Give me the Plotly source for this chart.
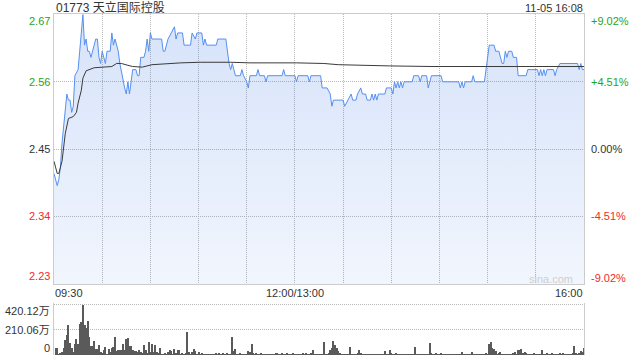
import plotly.graph_objects as go

# ---------------- data ----------------
title_text = "01773 天立国际控股"
date_text = "11-05 16:08"
prev_close = 2.45
pct_limit = 9.02

y_tick_values = [2.67, 2.56, 2.45, 2.34, 2.23]
y_tick_labels = ["2.67", "2.56", "2.45", "2.34", "2.23"]
pct_tick_labels = ["+9.02%", "+4.51%", "0.00%", "-4.51%", "-9.02%"]
time_tick_minutes = [0, 150, 330]
time_tick_labels = ["09:30", "12:00/13:00", "16:00"]
vol_tick_values = [420.12, 210.06, 0]
vol_tick_labels = ["420.12万", "210.06万", "0"]

# minutes since 09:30 (trading minutes, lunch break removed) and price
price_min = [0, 2, 3, 4, 5, 7, 8, 9, 10, 11, 12, 13, 15, 16, 18,
             19, 20, 21, 22, 23, 24, 26, 27, 28, 29, 30, 31, 32, 33, 35,
             36, 37, 38, 39, 40, 41, 43, 44, 45, 46, 47, 48, 49, 51, 52,
             53, 54, 56, 57, 58, 59, 60, 61, 67, 68, 69, 71, 73, 75, 76,
             77, 80, 81, 85, 86, 88, 89, 92, 93, 94, 95, 101, 102, 107, 108,
             109, 110, 111, 112, 113, 116, 117, 118, 120, 121, 122, 126, 127, 128, 131,
             132, 133, 142, 143, 144, 150, 151, 152, 158, 159, 160, 166, 167, 170, 172,
             173, 174, 180, 181, 183, 185, 186, 188, 189, 191, 192, 194, 195, 197, 198,
             199, 200, 201, 202, 206, 207, 210, 211, 212, 213, 214, 215, 216, 217, 218,
             223, 224, 227, 228, 229, 232, 233, 234, 235, 241, 242, 252, 253, 254, 255,
             256, 260, 261, 262, 268, 271, 274, 275, 277, 278, 279, 280, 281, 282, 283,
             285, 286, 288, 289, 294, 295, 301, 302, 303, 304, 305, 306, 307, 311, 312,
             313, 315, 326, 327, 328, 329, 330]
price = [2.41, 2.39, 2.40, 2.42, 2.46, 2.51, 2.54, 2.53, 2.53, 2.51, 2.52, 2.57, 2.58, 2.61, 2.67,
         2.62, 2.63, 2.61, 2.61, 2.60, 2.61, 2.63, 2.63, 2.60, 2.59, 2.61, 2.60, 2.59, 2.61, 2.61,
         2.64, 2.62, 2.63, 2.62, 2.61, 2.59, 2.56, 2.55, 2.54, 2.56, 2.54, 2.56, 2.58, 2.58, 2.57,
         2.57, 2.60, 2.60, 2.61, 2.63, 2.61, 2.64, 2.63, 2.63, 2.61, 2.61, 2.63, 2.64, 2.65, 2.63,
         2.64, 2.64, 2.62, 2.62, 2.64, 2.63, 2.64, 2.64, 2.62, 2.63, 2.62, 2.62, 2.63, 2.63, 2.61,
         2.59, 2.58, 2.59, 2.58, 2.57, 2.57, 2.58, 2.57, 2.56, 2.55, 2.57, 2.57, 2.58, 2.57, 2.57,
         2.56, 2.57, 2.57, 2.58, 2.57, 2.57, 2.56, 2.57, 2.57, 2.56, 2.57, 2.57, 2.55, 2.55, 2.54,
         2.52, 2.53, 2.53, 2.52, 2.53, 2.54, 2.53, 2.53, 2.54, 2.55, 2.54, 2.54, 2.53, 2.53, 2.54,
         2.53, 2.54, 2.53, 2.54, 2.54, 2.55, 2.55, 2.54, 2.56, 2.55, 2.56, 2.55, 2.56, 2.55, 2.56,
         2.56, 2.57, 2.57, 2.56, 2.57, 2.57, 2.55, 2.56, 2.57, 2.57, 2.56, 2.56, 2.55, 2.56, 2.55,
         2.56, 2.56, 2.57, 2.56, 2.56, 2.62, 2.62, 2.61, 2.61, 2.60, 2.59, 2.59, 2.61, 2.60, 2.61,
         2.61, 2.60, 2.60, 2.57, 2.57, 2.58, 2.58, 2.57, 2.58, 2.57, 2.58, 2.57, 2.58, 2.58, 2.57,
         2.58, 2.59, 2.59, 2.58, 2.59, 2.58, 2.58]

# average price line
avg_min = [0, 2, 3, 5, 7, 9, 12, 14, 15, 17, 18, 20, 25, 36, 39,
           42, 46, 49, 55, 61, 79, 91, 110, 122, 151, 168, 177, 189, 209, 236,
           270, 330]
avg_price = [2.43, 2.41, 2.41, 2.43, 2.475, 2.50, 2.503, 2.51, 2.525, 2.546, 2.566, 2.578, 2.583, 2.585, 2.590,
             2.590, 2.587, 2.585, 2.584, 2.588, 2.591, 2.592, 2.592, 2.591, 2.591, 2.590, 2.588, 2.587, 2.586, 2.585,
             2.585, 2.585]

# volume per minute (万), minutes 1..330
volume = [
    56, 56, 8, 20, 28, 56, 126, 168, 252, 104,
    56, 28, 92, 132, 92, 260, 272, 420.12, 252, 224,
    286, 148, 76, 76, 118, 50, 50, 84, 30, 20,
    42, 64, 14, 50, 28, 56, 64, 148, 36, 42,
    42, 42, 92, 42, 134, 140, 76, 76, 42, 36,
    36, 28, 42, 28, 22, 84, 42, 22, 106, 28,
    92, 28, 84, 30, 22, 56, 14, 14, 20, 14,
    28, 42, 36, 14, 48, 20, 42, 42, 14, 20,
    14, 20, 196, 28, 14, 28, 48, 36, 14, 28,
    14, 22, 14, 14, 8, 14, 14, 8, 8, 14,
    20, 14, 22, 14, 20, 8, 14, 20, 8, 14,
    154, 36, 48, 14, 14, 20, 8, 8, 14, 14,
    34, 28, 92, 22, 14, 22, 8, 14, 22, 14,
    8, 14, 8, 8, 8, 8, 14, 20, 20, 14,
    14, 20, 14, 14, 20, 14, 8, 8, 20, 14,
    8, 14, 14, 14, 22, 8, 22, 8, 14, 22,
    42, 8, 8, 8, 8, 14, 8, 109, 14, 14,
    22, 42, 56, 118, 84, 56, 36, 20, 14, 14,
    14, 14, 14, 64, 14, 8, 14, 14, 22, 42,
    20, 14, 8, 8, 8, 8, 8, 8, 8, 8,
    8, 8, 14, 8, 14, 34, 14, 8, 42, 22,
    14, 8, 22, 8, 14, 8, 8, 8, 14,
    8, 8, 8, 8, 14, 70, 8, 14, 8, 14,
    8, 14, 8, 14, 104, 20, 14, 8, 20, 14,
    8, 22, 8, 14, 8, 14, 8, 14, 8, 14,
    8, 14, 8, 14, 28, 8, 14, 8, 8, 14,
    28, 8, 14, 8, 14, 8, 8, 8, 14, 20,
    14,
    92, 109, 56, 48, 36, 8, 20, 28, 14, 8,
    14, 8, 14, 8, 14, 20, 28, 14, 42, 42,
    50, 20, 28, 22, 14, 8, 14, 8, 20, 14,
    8, 14, 8, 42, 8, 14, 20, 8, 14, 20,
    8,
    14, 8, 14, 20, 14, 20, 8, 14, 8, 14,
    8, 20, 76, 22, 14, 22, 36, 28, 62,
]
vol_min = list(range(1, len(volume) + 1))

# ---------------- style ----------------
W, H = 640, 360
GREEN = "#1ea51e"
RED = "#ef2b2b"
DARK = "#333333"
GRID = "#b8b8b8"
GRID_DASH = "1px,1px"
BORDER = "#cccccc"
FONT = "Liberation Sans, Arial, Noto Sans CJK SC, sans-serif"

def fx(px):
    return px / W

def fy(py):
    return 1 - py / H

x_dom = [fx(54), fx(584)]
main_dom = [fy(284), fy(14)]
# volume panel: bottom at 355px, top gridline (max volume) at 304.3px;
# domain extended 1.5px above so that the top gridline is drawn
vol_bottom_px, vol_top_grid_px, vol_dom_top_px = 355.0, 304.3, 302.8
vol_dom = [fy(vol_bottom_px), fy(vol_dom_top_px)]
vol_range_top = vol_tick_values[0] * (vol_bottom_px - vol_dom_top_px) / (vol_bottom_px - vol_top_grid_px)

y_lo = prev_close * (1 - pct_limit / 100)
y_hi = prev_close * (1 + pct_limit / 100)
total_min = 330

fig = go.Figure()

fig.add_trace(go.Scatter(
    x=price_min, y=price, mode="lines",
    line=dict(color="#5590f0", width=1),
    fill="tozeroy",
    fillgradient=dict(type="vertical",
                      colorscale=[[0, "rgba(60,120,230,0.07)"],
                                  [1, "rgba(60,120,230,0.21)"]],
                      start=y_lo, stop=y_hi),
    hoverinfo="skip", xaxis="x", yaxis="y",
))
fig.add_trace(go.Scatter(
    x=avg_min, y=avg_price, mode="lines",
    line=dict(color="#3a3a3a", width=1),
    hoverinfo="skip", xaxis="x", yaxis="y",
))
fig.add_trace(go.Bar(
    x=vol_min, y=volume, width=0.62,
    marker=dict(color="#5a5a5a", line=dict(width=0)),
    hoverinfo="skip", xaxis="x2", yaxis="y2",
))

grid_minutes = list(range(30, total_min, 30))

fig.update_layout(
    width=W, height=H, autosize=False,
    margin=dict(l=0, r=0, t=0, b=0, pad=0),
    paper_bgcolor="white", plot_bgcolor="white",
    showlegend=False,
    font=dict(family=FONT, size=11, color=DARK),
    xaxis=dict(domain=x_dom, range=[0, total_min], anchor="y",
               tickvals=grid_minutes, showticklabels=False, ticks="",
               showgrid=True, gridcolor=GRID, griddash=GRID_DASH, gridwidth=1,
               showline=True, mirror=True, linecolor=BORDER, linewidth=1,
               zeroline=False, fixedrange=True),
    yaxis=dict(domain=main_dom, range=[y_lo, y_hi], anchor="x",
               tickvals=y_tick_values[1:-1], showticklabels=False, ticks="",
               showgrid=True, gridcolor=GRID, griddash=GRID_DASH, gridwidth=1,
               showline=True, mirror=True, linecolor=BORDER, linewidth=1,
               zeroline=False, fixedrange=True),
    xaxis2=dict(domain=x_dom, range=[0, total_min], anchor="y2",
                showticklabels=False, ticks="", showgrid=False,
                showline=False, zeroline=False, fixedrange=True),
    yaxis2=dict(domain=vol_dom, range=[0, vol_range_top], anchor="x2",
                tickvals=vol_tick_values[:2], showticklabels=False, ticks="",
                showgrid=True, gridcolor=GRID, griddash=GRID_DASH, gridwidth=1,
                showline=True, mirror=True, linecolor=BORDER, linewidth=1,
                zeroline=False, fixedrange=True),
    bargap=0,
)

ann = []
# title and timestamp
ann.append(dict(text=title_text, x=fx(55), y=fy(7.5), xref="paper", yref="paper",
                xanchor="left", yanchor="middle", showarrow=False,
                font=dict(size=12, color=DARK), borderpad=0))
ann.append(dict(text=date_text, x=fx(584), y=fy(8), xref="paper", yref="paper",
                xanchor="right", yanchor="middle", showarrow=False,
                font=dict(size=11, color=DARK), borderpad=0))

# price and percent labels
label_colors = [GREEN, GREEN, DARK, RED, RED]
shifts_left = [-6, 0, 0, 0, 7]
shifts_right = [-6.5, 0, 0, 0, 5]
for v, lab, pl, c, sl, sr in zip(y_tick_values, y_tick_labels, pct_tick_labels,
                                 label_colors, shifts_left, shifts_right):
    ann.append(dict(text=lab, x=fx(50.5), y=v, xref="paper", yref="y",
                    xanchor="right", yanchor="middle", yshift=sl, showarrow=False,
                    font=dict(size=11, color=c), borderpad=0))
    ann.append(dict(text=pl, x=fx(589.5), y=v, xref="paper", yref="y",
                    xanchor="left", yanchor="middle", yshift=sr, showarrow=False,
                    font=dict(size=11, color=c), borderpad=0))

# time labels
anchors = ["left", "center", "right"]
for m, lab, a in zip(time_tick_minutes, time_tick_labels, anchors):
    ann.append(dict(text=lab, x=m, y=fy(293), xref="x", yref="paper",
                    xanchor=a, yanchor="middle", showarrow=False,
                    font=dict(size=11, color=DARK), borderpad=0))

# volume labels
vol_shifts = [-7, 0, 7]
for v, lab, s in zip(vol_tick_values, vol_tick_labels, vol_shifts):
    ann.append(dict(text=lab, x=fx(50.5), y=v, xref="paper", yref="y2",
                    xanchor="right", yanchor="middle", yshift=s, showarrow=False,
                    font=dict(size=11, color=DARK), borderpad=0))

# watermark
ann.append(dict(text="sina.com", x=fx(574), y=fy(279), xref="paper", yref="paper",
                xanchor="right", yanchor="middle", showarrow=False,
                font=dict(size=11, color="#cfcfcf"), borderpad=0))

fig.update_layout(annotations=ann)

fig.write_html("out.html", config={"displayModeBar": False})
